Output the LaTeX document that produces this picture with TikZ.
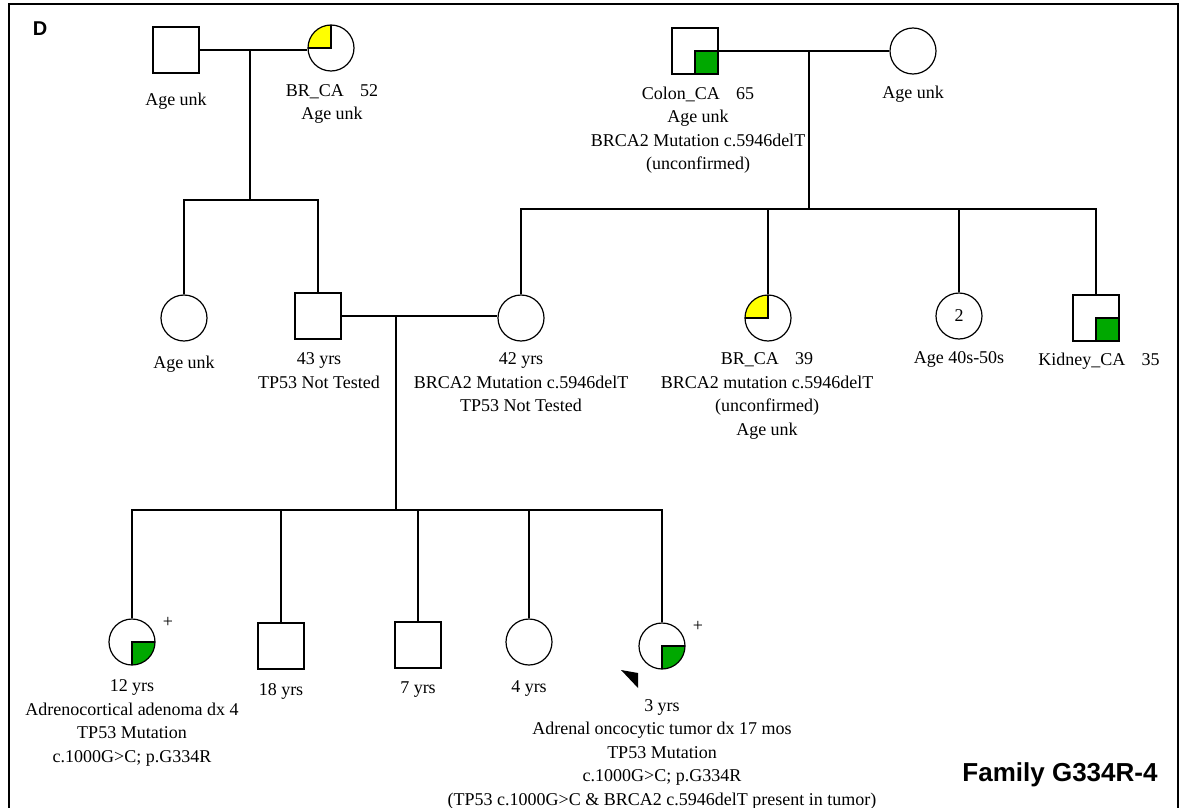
\documentclass[tikz,border=0pt]{standalone}
\usepackage{fontspec}
\setmainfont{Liberation Serif}
\newfontfamily\arialf{Liberation Sans}
\definecolor{pgreen}{RGB}{0,168,0}
\definecolor{pyellow}{RGB}{255,255,0}
\tikzset{
  sym/.style={draw, line width=1.2pt, minimum size=46pt, inner sep=0pt, fill=white},
  male/.style={sym, rectangle},
  female/.style={sym, circle},
  ulq/.style={path picture={%
      \fill[#1] (path picture bounding box.center) rectangle (path picture bounding box.north west);
      \draw[line width=1.2pt] (path picture bounding box.west) -- (path picture bounding box.center) -- (path picture bounding box.north);}},
  lrq/.style={path picture={%
      \fill[#1] (path picture bounding box.center) rectangle (path picture bounding box.south east);
      \draw[line width=1.2pt] (path picture bounding box.east) -- (path picture bounding box.center) -- (path picture bounding box.south);}},
  lbl/.style={align=center, font=\fontsize{18}{23.5}\selectfont, inner sep=0pt, anchor=base},
  conn/.style={line width=1.2pt},
  frame/.style={line width=2pt},
}
\begin{document}
\begin{tikzpicture}[x=1pt,y=-1pt]
\useasboundingbox (0,0) rectangle (1184,808);
\fill[white] (0,0) rectangle (1184,808);
\draw[frame] (9,810) -- (9,4) -- (1178,4) -- (1178,810);
\node[font=\arialf\bfseries\fontsize{20}{24}\selectfont, inner sep=0pt] (panel) at (40,29) {D};
\node[font=\arialf\bfseries\fontsize{26}{30}\selectfont, inner sep=0pt] (fam) at (1060,775) {Family G334R-4};

% generation 1 left
\node[male] (m1) at (176,50) {};
\node[female, ulq=pyellow] (f1) at (331,48) {};
\draw[conn] (m1.east) -- (f1.west |- m1.east);
\coordinate (j1) at (250,50);
\coordinate (s1) at (250,200);
\draw[conn] (j1) -- (s1);
\node[lbl] (t_m1) at (176,106) {Age unk};
\node[lbl] (t_f1) at (332,119.5) {BR\_CA\hspace{0.9em}52\\Age unk};

% generation 1 right
\node[male, lrq=pgreen] (m1r) at (695,51) {};
\node[female] (f1r) at (913,51) {};
\draw[conn] (m1r.east) -- (f1r.west);
\coordinate (j2) at (809,51);
\coordinate (s2) at (809,209);
\draw[conn] (j2) -- (s2);
\node[lbl] (t_m1r) at (698,169.5) {Colon\_CA\hspace{0.9em}65\\Age unk\\BRCA2 Mutation c.5946delT\\(unconfirmed)};
\node[lbl] (t_f1r) at (913,99) {Age unk};

% generation 2
\node[female] (f2a) at (184,318) {};
\node[male] (m2) at (318,316) {};
\node[female] (f2b) at (521,318) {};
\node[female, ulq=pyellow] (f2c) at (768,318) {};
\node[female, font=\fontsize{18}{20}\selectfont] (f2d) at (959,316) {2};
\node[male, lrq=pgreen] (m3) at (1096,318) {};
\draw[conn] (f2a.north) |- (s1) -| (m2.north);
\draw[conn] (f2b.north) |- (s2) -| (m3.north);
\draw[conn] (f2c.north) -- (f2c.north |- s2);
\draw[conn] (f2d.north) -- (f2d.north |- s2);
\draw[conn] (m2.east) -- (f2b.west |- m2.east);
\coordinate (j3) at (396,316);
\coordinate (s3) at (396,510);
\draw[conn] (j3) -- (s3);
\node[lbl] (t_f2a) at (184,368) {Age unk};
\node[lbl] (t_m2) at (319,388) {43 yrs\\TP53 Not Tested};
\node[lbl] (t_f2b) at (521,411.5) {42 yrs\\BRCA2 Mutation c.5946delT\\TP53 Not Tested};
\node[lbl] (t_f2c) at (767,435) {BR\_CA\hspace{0.9em}39\\BRCA2 mutation c.5946delT\\(unconfirmed)\\Age unk};
\node[lbl] (t_f2d) at (959,363) {Age 40s-50s};
\node[lbl] (t_m3) at (1099,365) {Kidney\_CA\hspace{0.9em}35};

% generation 3
\node[female, lrq=pgreen] (c1) at (132,642) {};
\node[male] (c2) at (281,646) {};
\node[male] (c3) at (418,645) {};
\node[female] (c4) at (529,642) {};
\node[female, lrq=pgreen] (c5) at (662,646) {};
\draw[conn] (c1.north) |- (s3) -| (c5.north);
\draw[conn] (c2.north) -- (c2.north |- s3);
\draw[conn] (c3.north) -- (c3.north |- s3);
\draw[conn] (c4.north) -- (c4.north |- s3);
\node[lbl] (p1) at (168,627) {+};
\node[lbl] (p5) at (698,631) {+};
\fill (621,670) -- (638,673) -- (638,688) -- cycle;
\node[lbl] (t_c1) at (132,762) {12 yrs\\Adrenocortical adenoma dx 4\\TP53 Mutation\\c.1000G>C; p.G334R};
\node[lbl] (t_c2) at (281,695) {18 yrs};
\node[lbl] (t_c3) at (418,693) {7 yrs};
\node[lbl] (t_c4) at (529,692) {4 yrs};
\node[lbl] (t_c5) at (662,805) {3 yrs\\Adrenal oncocytic tumor dx 17 mos\\TP53 Mutation\\c.1000G>C; p.G334R\\(TP53 c.1000G>C \& BRCA2 c.5946delT present in tumor)};
\end{tikzpicture}
\end{document}
